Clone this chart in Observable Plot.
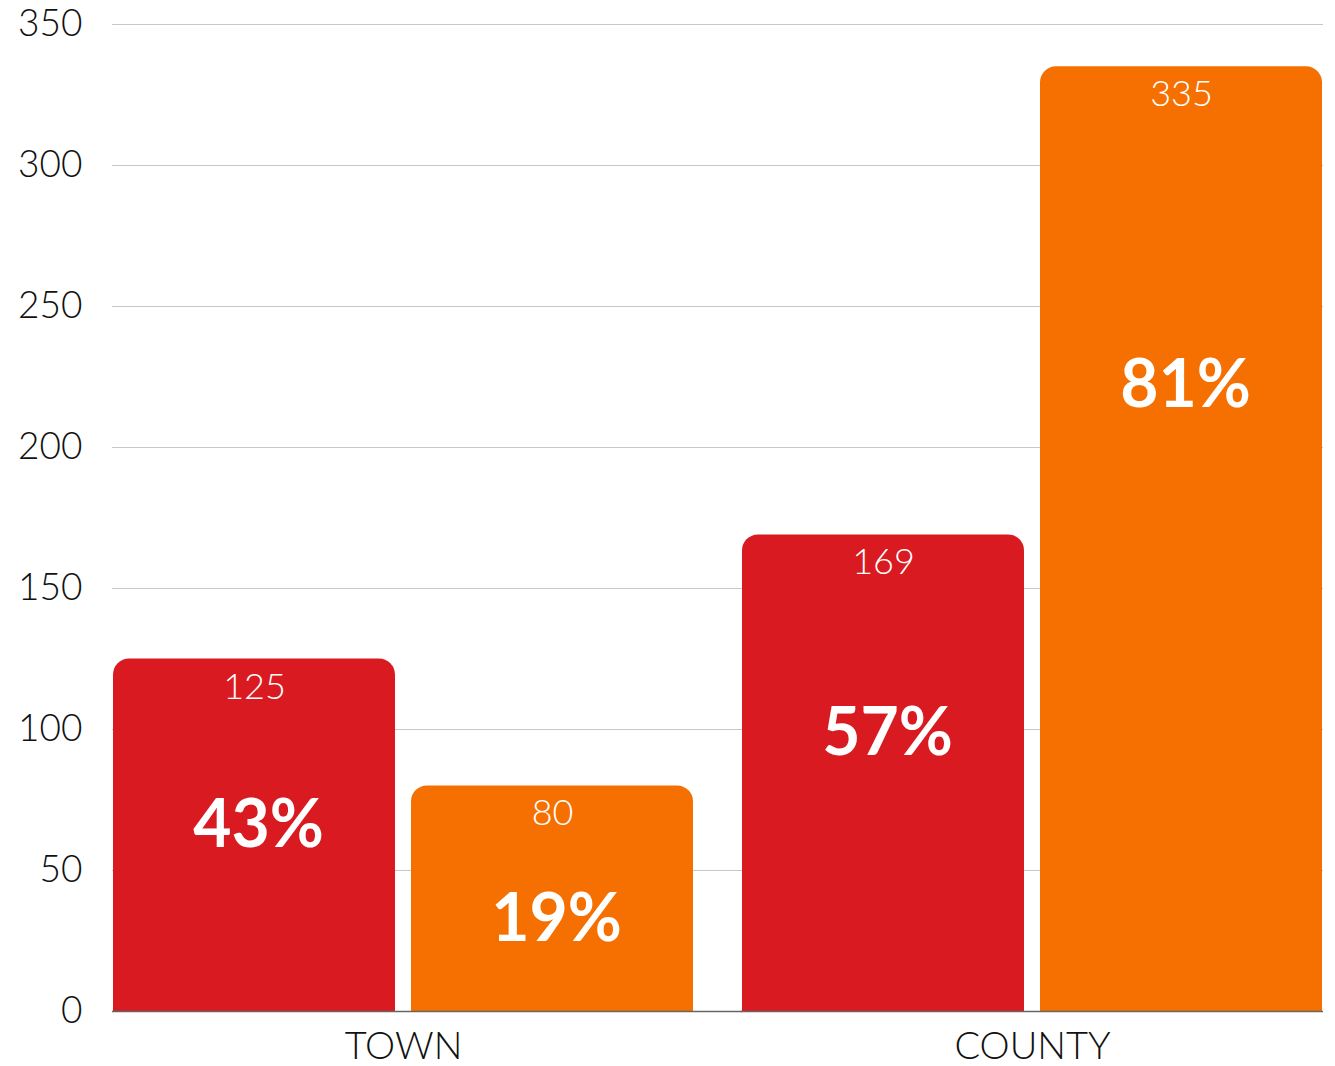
<!DOCTYPE html>
<html>
<head>
<meta charset="utf-8">
<script src="https://cdn.jsdelivr.net/npm/d3@7"></script>
<script src="https://cdn.jsdelivr.net/npm/@observablehq/plot@0.6"></script>
<style>
  html, body { margin: 0; padding: 0; background: #fff; }
  #chart svg { display: block; }
</style>
</head>
<body>
<div id="chart"></div>
<script>
// ---- data ----
const groups = ["TOWN", "COUNTY"];
const series = ["Series A", "Series B"];
const townValues = [125, 80];
const countyValues = [169, 335];
const townPercents = ["43%", "19%"];
const countyPercents = ["57%", "81%"];
const yTicks = [0, 50, 100, 150, 200, 250, 300, 350];

// ---- tables built from arrays ----
const rows = [];
series.forEach((s, i) => {
  rows.push({group: groups[0], series: s, value: townValues[i], pct: townPercents[i]});
  rows.push({group: groups[1], series: s, value: countyValues[i], pct: countyPercents[i]});
});
const gridFirst = yTicks.filter(t => t > 0).map(t => ({group: groups[0], tick: t}));
const gridRest = yTicks.filter(t => t > 0).flatMap(t => groups.slice(1).map(g => ({group: g, tick: t})));
const baseFirst = [{group: groups[0], tick: 0}];
const baseRest = groups.slice(1).map(g => ({group: g, tick: 0}));

const RED = "#D91B21";
const ORANGE = "#F57000";
const FONT = "Lato, 'Noto Sans', sans-serif";
const GAP = 48;

const chart = Plot.plot({
  width: 1335,
  height: 1066,
  marginLeft: 112,
  marginRight: 11,
  marginTop: 24,
  marginBottom: 55,
  style: {fontFamily: FONT, background: "#fff"},
  fx: {domain: groups, paddingInner: 0.0747, paddingOuter: 0, label: null, axis: "bottom",
       tickSize: 0, tickPadding: 21},
  x: {domain: series, paddingInner: 0.0535, paddingOuter: 0, axis: null},
  y: {domain: [0, 350], ticks: yTicks, label: null, tickSize: 0, tickPadding: 30},
  color: {domain: series, range: [RED, ORANGE]},
  marks: [
    Plot.ruleY(gridFirst, {fx: "group", y: "tick", stroke: "#c8c8c8", strokeWidth: 1, insetRight: -GAP}),
    Plot.ruleY(gridRest, {fx: "group", y: "tick", stroke: "#c8c8c8", strokeWidth: 1}),
    Plot.barY(rows, {fx: "group", x: "series", y: "value", fill: "series", rx: 16}),
    Plot.barY(rows, {fx: "group", x: "series", y1: 0, y2: d => d.value / 2, fill: "series"}),
    Plot.ruleY(baseFirst, {fx: "group", y: "tick", stroke: "#666", strokeWidth: 1.5, insetRight: -GAP}),
    Plot.ruleY(baseRest, {fx: "group", y: "tick", stroke: "#666", strokeWidth: 1.5}),
    Plot.text(rows, {fx: "group", x: "series", y: "value", text: d => String(d.value), dy: 28,
                     fill: "white", fontSize: 36, fontWeight: 300}),
    Plot.text(rows, {fx: "group", x: "series", y: d => d.value * 0.7425 - 26.9, text: "pct",
                     dx: 4, fill: "white", fontSize: 66, fontWeight: 700})
  ]
});

// axis label styling
d3.select(chart).selectAll("[aria-label='y-axis tick label'] text, [aria-label='fx-axis tick label'] text")
  .attr("fill", "#111");
d3.select(chart).selectAll("[aria-label='y-axis tick label']").attr("font-size", 37).attr("font-weight", 300);
d3.select(chart).selectAll("[aria-label='fx-axis tick label']").attr("font-size", 38).attr("font-weight", 300);

document.getElementById("chart").appendChild(chart);
</script>
</body>
</html>
